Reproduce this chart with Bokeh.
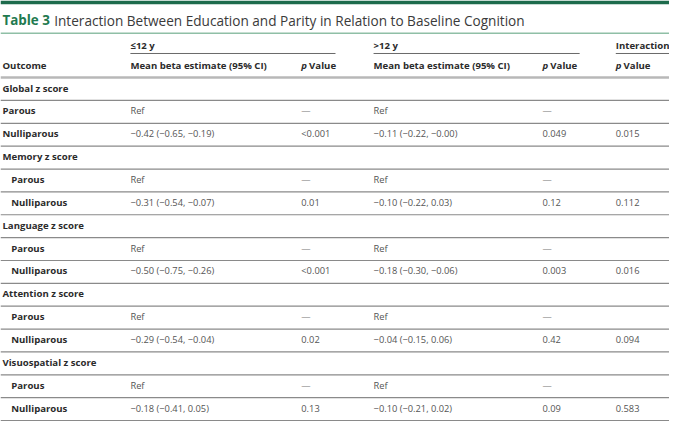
from bokeh.plotting import figure
from bokeh.models import Range1d, ColumnDataSource
from bokeh.core.properties import value
from bokeh.embed import file_html
from bokeh.resources import INLINE

# ---------------- data ----------------
title_label = "Table 3"
title_text = "Interaction Between Education and Parity in Relation to Baseline Cognition"
group_headers = ["≤12 y", ">12 y", "Interaction"]
col_header_outcome = "Outcome"
col_header_beta = "Mean beta estimate (95% CI)"
col_header_p = "Value"
outcomes = ["Global z score", "Memory z score", "Language z score",
            "Attention z score", "Visuospatial z score"]
parity = ["Parous", "Nulliparous"]
ref_beta = "Ref"
ref_p = "—"
le12_beta = ["−0.42 (−0.65, −0.19)", "−0.31 (−0.54, −0.07)", "−0.50 (−0.75, −0.26)",
             "−0.29 (−0.54, −0.04)", "−0.18 (−0.41, 0.05)"]
le12_p = ["<0.001", "0.01", "<0.001", "0.02", "0.13"]
gt12_beta = ["−0.11 (−0.22, −0.00)", "−0.10 (−0.22, 0.03)", "−0.18 (−0.30, −0.06)",
             "−0.04 (−0.15, 0.06)", "−0.10 (−0.21, 0.02)"]
gt12_p = ["0.049", "0.12", "0.003", "0.42", "0.09"]
interaction_p = ["0.015", "0.112", "0.016", "0.094", "0.583"]

# ---------------- layout (reference pixel space) ----------------
RW, RH = 685, 438
W, H = 669, 422
FONT = value("Open Sans")
col_x = [133, 308, 382, 555, 630]
label_x = 2
indent_x = 11
body_top = 80
row_h = 23.73

p = figure(width=W, height=H, x_range=Range1d(0, RW), y_range=Range1d(RH, 0),
           output_backend="svg", toolbar_location=None, min_border=0)
p.xaxis.visible = False
p.yaxis.visible = False
p.grid.visible = False
p.outline_line_color = None
p.background_fill_color = "white"
p.border_fill_color = "white"

# top bar and title rule
p.quad(left=[0], right=[RW], top=[0], bottom=[4], fill_color="#1d6b4c", line_color=None)
p.segment(x0=[0], y0=[34], x1=[RW], y1=[34], line_color="#8fbfa6", line_width=1.5)

texts = {"x": [], "y": [], "t": [], "size": [], "color": [], "style": []}

def add(x, y, t, size, color, style):
    texts["x"].append(x); texts["y"].append(y); texts["t"].append(t)
    texts["size"].append(size); texts["color"].append(color); texts["style"].append(style)

# title
add(2, 20.5, title_label, "13.4px", "#1f7a50", "bold")
add(55, 20.5, title_text, "13.6px", "#3a3a3a", "normal")

# group headers
hy1, hy2 = 47, 67
add(col_x[0], hy1, group_headers[0], "9.6px", "#2b2b2b", "bold")
add(col_x[2], hy1, group_headers[1], "9.6px", "#2b2b2b", "bold")
add(col_x[4], hy1, group_headers[2], "9.6px", "#2b2b2b", "bold")
p.segment(x0=[col_x[0], col_x[2], col_x[4]], y0=[55] * 3,
          x1=[343, 593, RW], y1=[55] * 3, line_color="#6a6a6a", line_width=1)

# column headers
add(label_x, hy2, col_header_outcome, "9.6px", "#2b2b2b", "bold")
add(col_x[0], hy2, col_header_beta, "9.6px", "#2b2b2b", "bold")
add(col_x[2], hy2, col_header_beta, "9.6px", "#2b2b2b", "bold")
for cx in (col_x[1], col_x[3], col_x[4]):
    add(cx, hy2, "p", "9.6px", "#2b2b2b", "bold italic")
    add(cx + 8, hy2, col_header_p, "9.6px", "#2b2b2b", "bold")

p.segment(x0=[0], y0=[body_top], x1=[RW], y1=[body_top], line_color="#b8b8b8", line_width=2.5)

# body rows
row = 0
line_ys = []
for i, name in enumerate(outcomes):
    lx = label_x if i == 0 else indent_x
    cy = body_top + row_h * (row + 0.5) - 1
    add(label_x, cy, name, "9.6px", "#2b2b2b", "bold")
    row += 1
    line_ys.append(body_top + row_h * row)
    # Parous
    cy = body_top + row_h * (row + 0.5) - 1
    add(lx, cy, parity[0], "9.6px", "#2b2b2b", "bold")
    add(col_x[0], cy, ref_beta, "9.3px", "#555555", "normal")
    add(col_x[1], cy, ref_p, "9.3px", "#777777", "normal")
    add(col_x[2], cy, ref_beta, "9.3px", "#555555", "normal")
    add(col_x[3], cy, ref_p, "9.3px", "#777777", "normal")
    row += 1
    line_ys.append(body_top + row_h * row)
    # Nulliparous
    cy = body_top + row_h * (row + 0.5) - 1
    add(lx, cy, parity[1], "9.6px", "#2b2b2b", "bold")
    add(col_x[0], cy, le12_beta[i], "9.3px", "#555555", "normal")
    add(col_x[1], cy, le12_p[i], "9.3px", "#555555", "normal")
    add(col_x[2], cy, gt12_beta[i], "9.3px", "#555555", "normal")
    add(col_x[3], cy, gt12_p[i], "9.3px", "#555555", "normal")
    add(col_x[4], cy, interaction_p[i], "9.3px", "#555555", "normal")
    row += 1
    line_ys.append(body_top + row_h * row)

p.segment(x0=[0] * len(line_ys), y0=line_ys, x1=[RW] * len(line_ys), y1=line_ys,
          line_color="#8a8a8a", line_width=1.2)

src = ColumnDataSource(texts)
p.text(x="x", y="y", text="t", source=src, text_font=FONT, text_font_size="size",
       text_color="color", text_font_style="style", text_align="left",
       text_baseline="middle")

open("out.html", "w").write(file_html(p, INLINE))
